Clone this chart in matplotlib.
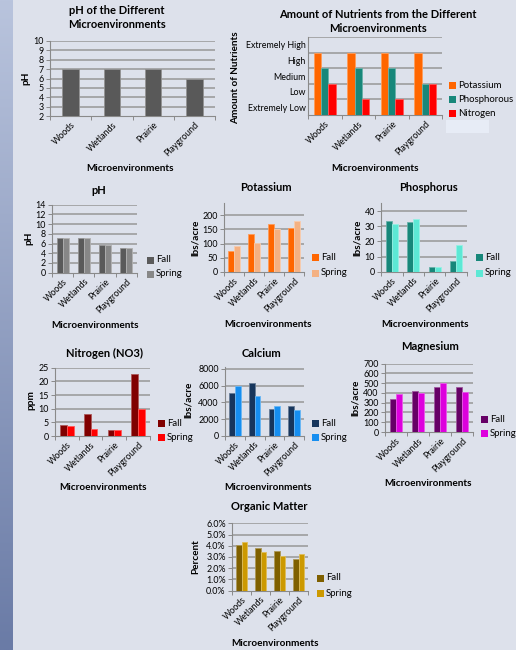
import numpy as np
import matplotlib
matplotlib.use("Agg")
import matplotlib.pyplot as plt
from matplotlib.patches import Rectangle
from matplotlib.colors import to_rgb

plt.rcParams['font.family'] = ['Lato', 'DejaVu Sans']

W, H = 516, 650
BG = '#dde1eb'

sites = ["Woods", "Wetlands", "Prairie", "Playground"]
seasons = ["Fall", "Spring"]

ph_single = [7.0, 7.0, 7.0, 5.9]

nutrient_levels = ["Extremely Low", "Low", "Medium", "High", "Extremely High"]
nutrient_names = ["Potassium", "Phosphorous", "Nitrogen"]
potassium_level = [4, 4, 4, 4]
phosphorous_level = [3, 3, 3, 2]
nitrogen_level = [2, 1, 1, 2]

ph_fall = [7.1, 7.1, 5.6, 5.0]
ph_spring = [7.1, 7.1, 5.8, 5.0]

potassium_fall = [74, 133, 169, 155]
potassium_spring = [90, 101, 151, 181]

phosphorus_fall = [33.6, 32.5, 3.3, 7.3]
phosphorus_spring = [31.4, 34.7, 3.3, 17.8]

nitrogen_fall = [4.1, 8.0, 2.2, 22.6]
nitrogen_spring = [3.8, 2.6, 2.2, 9.9]

calcium_fall = [5080, 6360, 3240, 3560]
calcium_spring = [5920, 4760, 3560, 3120]

magnesium_fall = [341, 423, 461, 461]
magnesium_spring = [389, 399, 498, 410]

organic_fall = [4.07, 3.83, 3.50, 2.79]
organic_spring = [4.37, 3.45, 3.12, 3.27]

fig = plt.figure(figsize=(W / 100, H / 100), dpi=100, facecolor=BG)

# gradient strip down the left edge
strip = fig.add_axes([0, 0, 13 / W, 1])
grad = np.linspace(0, 1, 256)[:, None, None]
top = np.array(to_rgb('#b9c4dd'))
bot = np.array(to_rgb('#6a7ba6'))
strip.imshow(top * (1 - grad) + bot * grad, aspect='auto', extent=[0, 1, 0, 1])
strip.axis('off')

TICK_FS = 6.4


def px_axes(x0, x1, ytop, ybot):
    return fig.add_axes([x0 / W, 1 - ybot / H, (x1 - x0) / W, (ybot - ytop) / H])


def ftext(x, y, s, **kw):
    kw.setdefault('ha', 'center')
    kw.setdefault('va', 'center')
    fig.text(x / W, 1 - y / H, s, **kw)


def lighten(c, f=0.35):
    r = np.array(to_rgb(c))
    return tuple(r + (1 - r) * f)


def style_axes(ax, yticks, ylim, fmt=None, tick_fs=TICK_FS):
    ax.set_facecolor('none')
    for s in ('top', 'right'):
        ax.spines[s].set_visible(False)
    for s in ('left', 'bottom'):
        ax.spines[s].set_color('#8a8a8a')
        ax.spines[s].set_linewidth(0.8)
    ax.set_ylim(*ylim)
    ax.set_yticks(yticks)
    if fmt:
        ax.set_yticklabels([fmt(v) for v in yticks])
    ax.tick_params(axis='y', length=3, width=0.7, color='#8a8a8a', labelsize=tick_fs, pad=1.5)
    ax.set_xlim(-0.5, len(sites) - 0.5)
    ax.set_xticks(range(len(sites)))
    ax.set_xticklabels(sites, rotation=45, ha='right', rotation_mode='anchor', fontsize=tick_fs)
    ax.tick_params(axis='x', length=0, pad=3)
    ax.set_xticks(np.arange(-0.5, len(sites), 1), minor=True)
    ax.tick_params(axis='x', which='minor', length=3, width=0.7, color='#8a8a8a')
    for v in yticks:
        if v > ylim[0]:
            ax.axhline(v, color='#979797', lw=1.1, zorder=0)


def legend_px(x, ys, labels, colors, fs=6.9):
    for y, lab, c in zip(ys, labels, colors):
        fig.patches.append(Rectangle(((x - 3.5) / W, 1 - (y + 3.5) / H), 7 / W, 7 / H,
                                     transform=fig.transFigure, facecolor=c, edgecolor='none'))
        ftext(x + 6, y, lab, ha='left', fontsize=fs)


def grouped(ax, series, colors, gap=1.5):
    n = len(series)
    w = 1.0 / (n + gap)
    x = np.arange(len(sites))
    for i, (vals, c) in enumerate(zip(series, colors)):
        ax.bar(x + (i - (n - 1) / 2) * w, vals, width=w, color=c,
               edgecolor=lighten(c), linewidth=0.6, zorder=3)


title_kw = dict(fontsize=8, fontweight='bold')
lab_kw = dict(fontsize=7.2, fontweight='bold')

# 1. pH of the different microenvironments
ax = px_axes(50, 215, 41, 116)
style_axes(ax, list(range(2, 11)), (2, 10))
grouped(ax, [ph_single], ['#595959'])
ftext(117, 10, "pH of the Different", **title_kw)
ftext(117, 24, "Microenvironments", **title_kw)
ftext(26, 78, "pH", rotation=90, **lab_kw)
ftext(130, 168, "Microenvironments", **lab_kw)

# 2. amount of nutrients
ax = px_axes(308, 442, 37, 115)
style_axes(ax, [0, 1, 2, 3, 4, 5], (0, 5))
ax.set_yticks([0.5, 1.5, 2.5, 3.5, 4.5])
ax.set_yticklabels(nutrient_levels)
ax.tick_params(axis='y', length=0)
grouped(ax, [potassium_level, phosphorous_level, nitrogen_level],
        ['#ff6600', '#17877a', '#ff0000'])
ftext(378, 14, "Amount of Nutrients from the Different", **title_kw)
ftext(378, 29, "Microenvironments", **title_kw)
ftext(236, 78, "Amount of Nutrients", rotation=90, **lab_kw)
ftext(375, 168, "Microenvironments", **lab_kw)
fig.patches.append(Rectangle((446 / W, 1 - 133 / H), 43 / W, 13 / H,
                             transform=fig.transFigure, facecolor='#e7ecf6', edgecolor='none'))
legend_px(452, [85, 99, 113], nutrient_names, ['#ff6600', '#17877a', '#ff0000'])

# 3. pH by season
ax = px_axes(52, 137, 204.7, 272.7)
style_axes(ax, list(range(0, 15, 2)), (0, 14))
grouped(ax, [ph_fall, ph_spring], ['#5a5a5a', '#878787'])
ftext(99, 190, "pH", **title_kw)
ftext(29, 238, "pH", rotation=90, **lab_kw)
ftext(95, 325, "Microenvironments", **lab_kw)
legend_px(150, [260, 274], seasons, ['#5a5a5a', '#878787'])

# 4. potassium
ax = px_axes(224, 304, 203, 271.7)
style_axes(ax, [0, 50, 100, 150, 200], (0, 244))
grouped(ax, [potassium_fall, potassium_spring], ['#ff6600', '#f4b183'])
ftext(266, 188, "Potassium", **title_kw)
ftext(195, 238, "lbs/acre", rotation=90, **lab_kw)
ftext(268, 324, "Microenvironments", **lab_kw)
legend_px(315, [258, 273], seasons, ['#ff6600', '#f4b183'])

# 5. phosphorus
ax = px_axes(381, 467, 203, 271.7)
style_axes(ax, [0, 10, 20, 30, 40], (0, 45.3))
grouped(ax, [phosphorus_fall, phosphorus_spring], ['#17877a', '#5de8d5'])
ftext(428, 188, "Phosphorus", **title_kw)
ftext(357, 238, "lbs/acre", rotation=90, **lab_kw)
ftext(425, 324, "Microenvironments", **lab_kw)
legend_px(479, [258, 273], seasons, ['#17877a', '#5de8d5'])

# 6. nitrogen
ax = px_axes(55, 150, 367.7, 436)
style_axes(ax, [0, 5, 10, 15, 20, 25], (0, 25))
grouped(ax, [nitrogen_fall, nitrogen_spring], ['#800000', '#ff0000'])
ftext(105, 353, "Nitrogen (NO3)", **title_kw)
ftext(31, 400, "ppm", rotation=90, **lab_kw)
ftext(103, 488, "Microenvironments", **lab_kw)
legend_px(161, [423, 437], seasons, ['#800000', '#ff0000'])

# 7. calcium
ax = px_axes(225, 304, 366.7, 435.7)
style_axes(ax, [0, 2000, 4000, 6000, 8000], (0, 8270))
grouped(ax, [calcium_fall, calcium_spring], ['#17365d', '#168ef0'])
ftext(262, 353, "Calcium", **title_kw)
ftext(188, 400, "lbs/acre", rotation=90, **lab_kw)
ftext(268, 487, "Microenvironments", **lab_kw)
legend_px(315, [423, 437], seasons, ['#17365d', '#168ef0'])

# 8. magnesium
ax = px_axes(385, 473, 363.7, 432)
style_axes(ax, list(range(0, 701, 100)), (0, 700))
grouped(ax, [magnesium_fall, magnesium_spring], ['#660066', '#dd00dd'])
ftext(430, 347, "Magnesium", **title_kw)
ftext(355, 398, "lbs/acre", rotation=90, **lab_kw)
ftext(428, 484, "Microenvironments", **lab_kw)
legend_px(484, [419, 433], seasons, ['#660066', '#dd00dd'])

# 9. organic matter
ax = px_axes(232, 308, 523.3, 590.7)
style_axes(ax, [0, 1, 2, 3, 4, 5, 6], (0, 6), fmt=lambda v: f"{v:.1f}%")
grouped(ax, [organic_fall, organic_spring], ['#7f6000', '#cc9900'])
ftext(269, 507, "Organic Matter", **title_kw)
ftext(196, 557, "Percent", rotation=90, **lab_kw)
ftext(275, 643, "Microenvironments", **lab_kw)
legend_px(320, [578, 593], seasons, ['#7f6000', '#cc9900'])

fig.savefig("out.png", dpi=100, facecolor=BG)
